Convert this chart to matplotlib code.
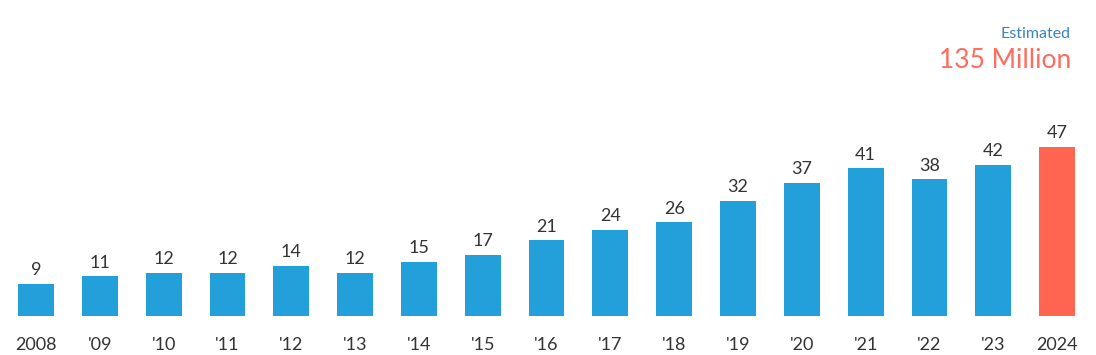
import matplotlib.pyplot as plt

# data
years = ["2008", "'09", "'10", "'11", "'12", "'13", "'14", "'15", "'16",
         "'17", "'18", "'19", "'20", "'21", "'22", "'23", "2024"]
values = [9, 11, 12, 12, 14, 12, 15, 17, 21, 24, 26, 32, 37, 41, 38, 42, 47]
colors = ["#239fd9"] * (len(values) - 1) + ["#ff6550"]

plt.rcParams['font.family'] = ['Lato', 'DejaVu Sans']

W, H = 1096, 355
fig = plt.figure(figsize=(W / 100, H / 100), dpi=100)
# axes placed in pixel terms: bars sit on y=316 px from the top
ax = fig.add_axes([4.1 / W, 39 / H, (1089 - 4.1) / W, 316 / H])

x = range(len(values))
bars = ax.bar(x, values, width=0.56, color=colors)
for xi, v in zip(x, values):
    ax.annotate(str(v), (xi, v), xytext=(0, 4), textcoords='offset points',
                ha='center', va='bottom', fontsize=13, color='#333333')

ax.set_xlim(-0.5, len(values) - 0.5)
ax.set_ylim(0, 316 / 3.6)
ax.set_xticks(list(x))
ax.set_xticklabels(years, fontsize=13, color='#333333')
ax.tick_params(axis='x', length=0, pad=15)
ax.set_yticks([])
for s in ax.spines.values():
    s.set_visible(False)

fig.text(1071 / W, 1 - 34 / H, "Estimated", ha='right', va='center',
         fontsize=11.5, color='#3b82c4')
fig.text(1071 / W, 1 - 61 / H, "135 Million", ha='right', va='center',
         fontsize=19, color='#ff6b5e')

fig.savefig("out.png", dpi=100)
